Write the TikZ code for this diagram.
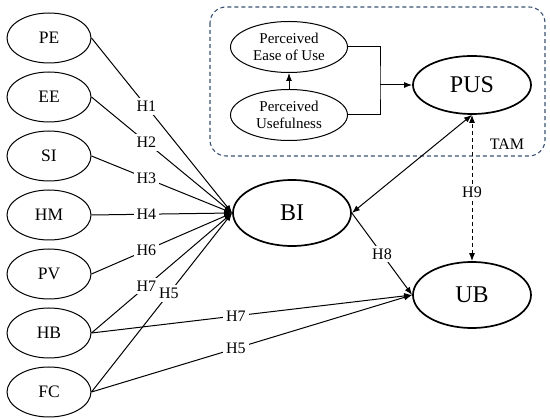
\documentclass[tikz,border=0pt]{standalone}
\usepackage{fontspec}
\setmainfont{Liberation Serif}
\usetikzlibrary{positioning,arrows.meta,shapes.geometric}
\definecolor{tamline}{HTML}{3B5272}

\begin{document}
\begin{tikzpicture}[
  x=1pt,y=-1pt,
  node distance=8pt,
  >={Latex[length=8pt,width=6pt]},
  cst/.style={ellipse,draw,line width=1pt,minimum width=84pt,minimum height=50pt,
              inner sep=0pt,font=\fontsize{17.5}{20}\selectfont},
  big/.style={cst,line width=1.7pt,minimum width=118pt,minimum height=66pt,
              font=\fontsize{24}{28}\selectfont},
  sub/.style={cst,minimum width=117pt,minimum height=51pt,align=center,
              font=\fontsize{15}{17}\selectfont},
  sig/.style={->,line width=1pt},
  hyp/.style={fill=white,inner sep=3pt,font=\fontsize{16}{18}\selectfont},
  tambox/.style={draw=tamline,dashed,dash pattern=on 4pt off 3pt,line width=1.1pt,
                 rounded corners=16pt},
]
\useasboundingbox (0,0) rectangle (550,419);

% ------------------------------------------------------------ TAM block
\draw[tambox] (210,7) rectangle (545,156);
\node[font=\fontsize{16}{18}\selectfont] (tam) at (507,144) {TAM};

\node[sub]                 (peu) at (289,47)  {Perceived\\Ease of Use};
\node[sub]                 (pu)  at (289,115) {Perceived\\Usefulness};
\node[big,minimum height=58pt] (pus) at (472,85) {PUS};

\draw[sig] (pu.north) -- (peu.south);
\coordinate (jn) at (380,85);
\draw[line width=1pt] (peu.east) -| (jn) |- (pu.east);
\draw[sig] (jn) -- (pus.west);

% ------------------------------------------------------------ constructs
\node[cst]              (pe) at (49,38) {PE};
\node[cst, below=of pe] (ee) {EE};
\node[cst, below=of ee] (si) {SI};
\node[cst, below=of si] (hm) {HM};
\node[cst, below=of hm] (pv) {PV};
\node[cst, below=of pv] (hb) {HB};
\node[cst, below=of hb] (fc) {FC};

\node[big] (bi) at (292,213) {BI};
\node[big] (ub) at (472,295) {UB};

% ------------------------------------------------------------ hypotheses
\foreach \s/\h in {pe/H1,ee/H2,si/H3,hm/H4,pv/H6,hb/H7}
  \draw[sig] (\s.east) -- node[hyp,pos=0.39] {\h} (bi.west);
\draw[sig] (fc.east) -- node[hyp,pos=0.55] {H5} (bi.west);

\draw[sig] (hb.east) -- node[hyp,pos=0.45] {H7} (ub.west);
\draw[sig] (fc.east) -- node[hyp,pos=0.45] {H5} (ub.west);

\draw[sig] (bi.east) -- node[hyp] {H8} (ub.west);
\draw[<->,line width=1pt] (bi.east) -- (pus.south);
\draw[<->,line width=1pt,dashed,dash pattern=on 4pt off 3pt]
  (ub.north) -- node[hyp,pos=0.47] {H9} (pus.south);

\end{tikzpicture}
\end{document}
